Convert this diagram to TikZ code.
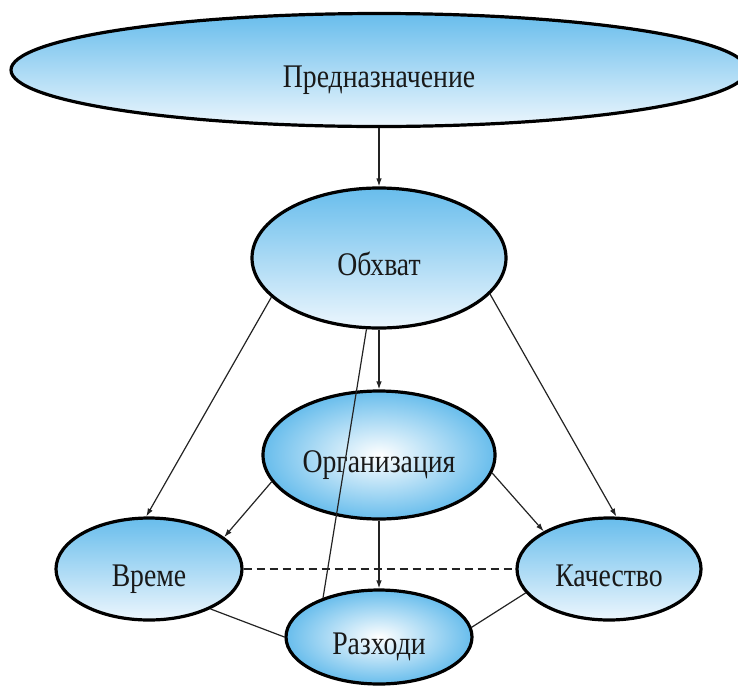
\documentclass[tikz,border=0pt]{standalone}
\usepackage{fontspec}
\setmainfont{Liberation Serif}[FakeStretch=0.84]
\usetikzlibrary{shapes.geometric, arrows.meta}
\definecolor{ovaltop}{RGB}{104,189,236}
\definecolor{ovalbottom}{RGB}{236,246,253}
\definecolor{linkgray}{RGB}{35,35,35}

\begin{document}
\begin{tikzpicture}[x=1pt, y=-1pt, >={Latex[length=8pt,width=5.5pt]},
  myovalstyle/.style={ellipse, draw=black, line width=3.2pt, inner sep=0pt,
    text height=34pt, text depth=0pt, text=black!90,
    font=\fontsize{33}{38}\selectfont, top color=ovaltop, bottom color=ovalbottom},
  mylinkstyle/.style={draw=linkgray, line width=1.2pt}]
  \useasboundingbox (0,0) rectangle (738,686);
  \node[myovalstyle, minimum width=736pt, minimum height=113pt] (purpose) at (379,70) {Предназначение};
  \node[myovalstyle, minimum width=254pt, minimum height=140pt] (coverage) at (379,258) {Обхват};
  \node[myovalstyle, minimum width=232pt, minimum height=128pt, inner color=white, outer color=ovaltop] (org) at (379,455) {Организация};
  \node[myovalstyle, minimum width=186pt, minimum height=102pt] (time) at (149,569) {Време};
  \node[myovalstyle, minimum width=184pt, minimum height=102pt] (quality) at (609,569) {Качество};
  \node[myovalstyle, minimum width=186pt, minimum height=94pt, inner color=white, outer color=ovaltop] (costs) at (379,637) {Разходи};

  \draw[mylinkstyle, ->] (purpose) -- (coverage);
  \draw[mylinkstyle, ->] (coverage) -- (org);
  \draw[mylinkstyle, ->] (org) -- (costs);
  \draw[mylinkstyle, ->] (coverage.200) -- (time.93);
  \draw[mylinkstyle, ->] (coverage.342) -- (quality.82);
  \draw[mylinkstyle, ->] (org.194) -- (time.23);
  \draw[mylinkstyle, ->] (org.351) -- (quality.150);
  \draw[mylinkstyle] (coverage.260) -- (costs.145);
  \draw[mylinkstyle, line width=1.6pt, dash pattern=on 8pt off 5pt] (time) -- (quality);
  \draw[mylinkstyle] (time.327) -- (costs.west);
  \draw[mylinkstyle] (quality.196) -- (costs.6);
\end{tikzpicture}
\end{document}
